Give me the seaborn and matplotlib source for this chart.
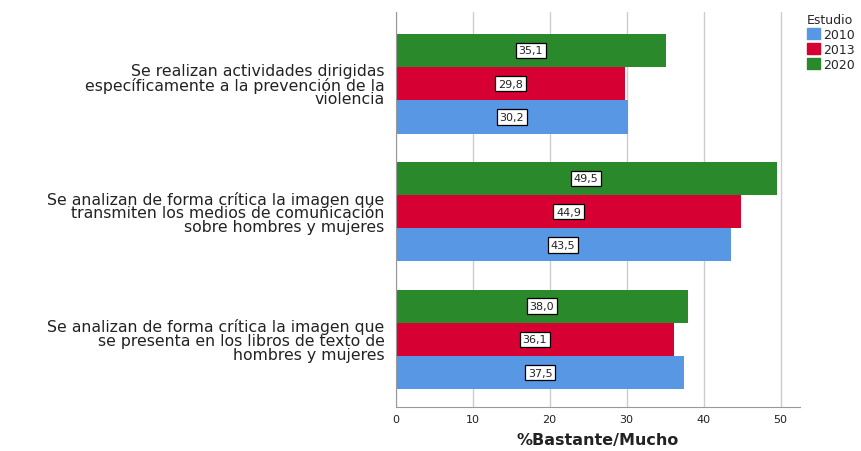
import pandas as pd
import matplotlib.pyplot as plt
import seaborn as sns
from matplotlib.patches import Patch

# datos
items = [
    "Se realizan actividades dirigidas\nespecíficamente a la prevención de la\nviolencia",
    "Se analizan de forma crítica la imagen que\ntransmiten los medios de comunicación\nsobre hombres y mujeres",
    "Se analizan de forma crítica la imagen que\nse presenta en los libros de texto de\nhombres y mujeres",
]
estudios = ["2010", "2013", "2020"]
v2010 = [30.2, 43.5, 37.5]
v2013 = [29.8, 44.9, 36.1]
v2020 = [35.1, 49.5, 38.0]
colores = {"2010": "#5797E3", "2013": "#D70032", "2020": "#2A8A2B"}

df = pd.DataFrame({
    "item": items * 3,
    "Estudio": ["2010"] * 3 + ["2013"] * 3 + ["2020"] * 3,
    "valor": v2010 + v2013 + v2020,
})

sns.set_style("white")
plt.rcParams["font.family"] = ["DejaVu Sans"]

fig = plt.figure(figsize=(8.62, 4.52), dpi=100)
ax = fig.add_axes([0.459, 0.097, 0.469, 0.874])

orden_hue = ["2020", "2013", "2010"]
sns.barplot(data=df, x="valor", y="item", hue="Estudio", hue_order=orden_hue,
            order=items, palette=colores, width=0.78, orient="h",
            saturation=1, edgecolor="none", legend=False, ax=ax)

# etiquetas de valor en cajas blancas
for cont in ax.containers:
    for barra in cont:
        w = barra.get_width()
        ax.text(w / 2, barra.get_y() + barra.get_height() / 2,
                f"{w:.1f}".replace(".", ","), ha="center", va="center",
                fontsize=8, color="#222222",
                bbox=dict(boxstyle="square,pad=0.25", fc="white", ec="black", lw=0.9))

ax.set_xlim(0, 52.5)
ax.set_ylim(2.53, -0.56)
ax.set_xticks([0, 10, 20, 30, 40, 50])
ax.tick_params(axis="x", labelsize=8, length=0, pad=5, labelcolor="#222222")
ax.tick_params(axis="y", labelsize=11.3, length=0, pad=8, labelcolor="#222222")
for lab in ax.get_yticklabels():
    lab.set_linespacing(0.9)
ax.xaxis.grid(True, color="#cccccc", lw=1)
ax.set_axisbelow(True)
sns.despine(ax=ax, top=True, right=True)
ax.spines["left"].set_color("#999999")
ax.spines["bottom"].set_color("#999999")
ax.set_ylabel("")
ax.set_xlabel("%Bastante/Mucho", fontsize=11.5, fontweight="bold", labelpad=6,
              color="#222222")

handles = [Patch(color=colores[e], label=e) for e in estudios]
leg = ax.legend(handles=handles, title="Estudio", loc="upper left",
                bbox_to_anchor=(0.995, 1.02), frameon=False, fontsize=9,
                title_fontsize=9, handlelength=1.1, handleheight=1.0,
                handletextpad=0.25, labelspacing=0.15, borderaxespad=0.3)
leg._legend_box.align = "left"

fig.savefig("out.png", dpi=100)
